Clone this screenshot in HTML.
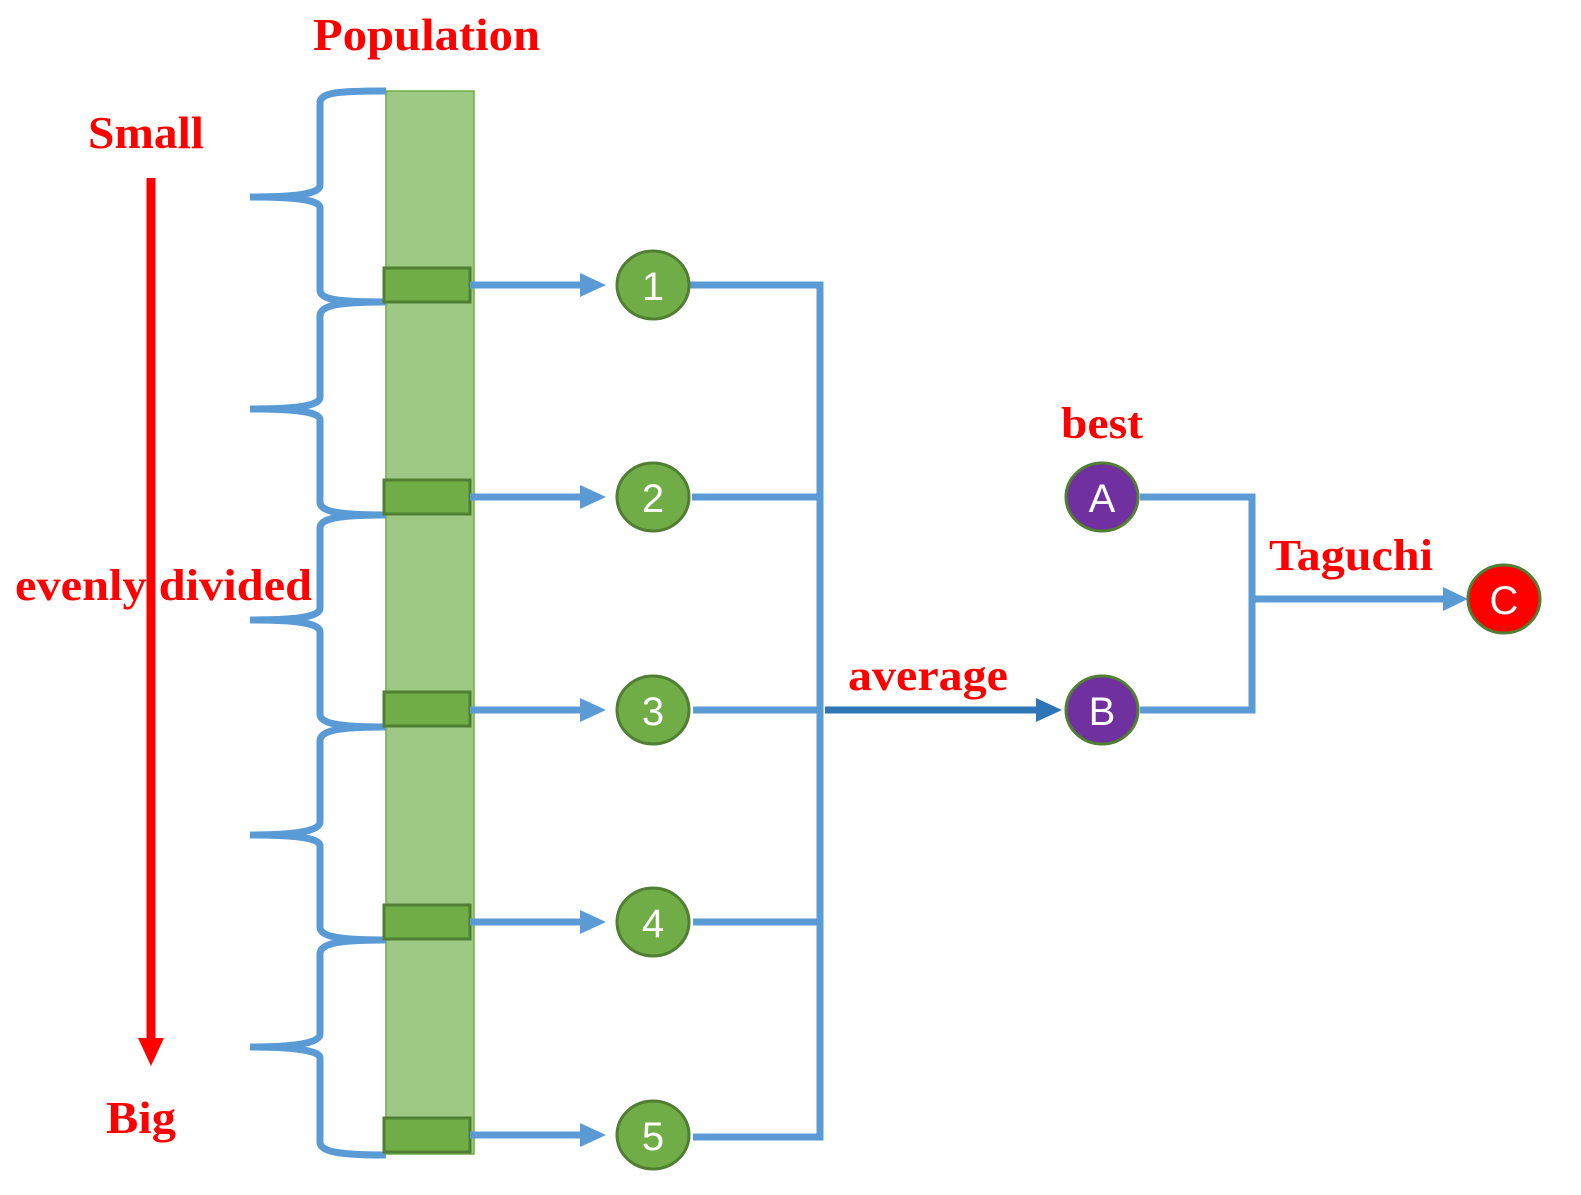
<!DOCTYPE html>
<html><head><meta charset="utf-8"><style>
html,body{margin:0;padding:0;background:#fff;}
svg{display:block;}
.t{font-family:"Liberation Serif",serif;font-weight:bold;fill:#ff0000;}
.n{font-family:"Liberation Sans",sans-serif;fill:#fff;font-size:40px;text-anchor:middle;}
</style></head><body>
<svg width="1581" height="1195" viewBox="0 0 1581 1195" xmlns="http://www.w3.org/2000/svg">
<defs>
<marker id="ab" markerWidth="8" markerHeight="8" refX="6" refY="4" orient="auto" markerUnits="userSpaceOnUse" viewBox="0 0 8 8"><path d="M0,0 L8,4 L0,8z" fill="#5b9bd5"/></marker>
</defs>
<!-- red arrow -->
<line x1="151" y1="178" x2="151" y2="1040" stroke="#ff0000" stroke-width="9"/>
<polygon points="138,1038 164,1038 151,1066" fill="#ff0000"/>
<!-- texts -->
<text class="t" x="313" y="50" font-size="46" textLength="227" lengthAdjust="spacingAndGlyphs">Population</text>
<text class="t" x="88" y="148" font-size="46" textLength="116" lengthAdjust="spacingAndGlyphs">Small</text>
<text class="t" x="15" y="600" font-size="44" textLength="297" lengthAdjust="spacingAndGlyphs">evenly divided</text>
<text class="t" x="106" y="1133" font-size="46" textLength="70" lengthAdjust="spacingAndGlyphs">Big</text>
<text class="t" x="1061" y="438" font-size="44" textLength="82" lengthAdjust="spacingAndGlyphs">best</text>
<text class="t" x="1269" y="570" font-size="44" textLength="164" lengthAdjust="spacingAndGlyphs">Taguchi</text>
<text class="t" x="848" y="690" font-size="44" textLength="160" lengthAdjust="spacingAndGlyphs">average</text>
<!-- bar -->
<rect x="386" y="91" width="88" height="1063" fill="#9dc985" stroke="#70ad47" stroke-width="1.5"/>
<!-- braces -->
<g fill="none" stroke="#5b9bd5" stroke-width="7">
<path d="M386,91 C340,91 320,92 320,103 L320,185 C320,195 290,197 250,197"/>
<path d="M386,302 C340,302 320,300 320,290 L320,208 C320,199 290,197 250,197"/>
<path d="M386,302 C340,302 320,305 320,316 L320,397 C320,407 290,409 250,409"/>
<path d="M386,515 C340,515 320,512 320,502 L320,420 C320,411 290,409 250,409"/>
<path d="M386,515 C340,515 320,518 320,528 L320,608 C320,618 290,620 250,620"/>
<path d="M386,727 C340,727 320,724 320,714 L320,632 C320,622 290,620 250,620"/>
<path d="M386,727 C340,727 320,730 320,741 L320,822 C320,832 290,835 250,835"/>
<path d="M386,940 C340,940 320,937 320,927 L320,846 C320,837 290,835 250,835"/>
<path d="M386,940 C340,940 320,943 320,954 L320,1034 C320,1044 290,1047 250,1047"/>
<path d="M386,1155 C340,1155 320,1152 320,1142 L320,1058 C320,1050 290,1047 250,1047"/>
</g>
<!-- small boxes, arrows, circles -->
<g>
<rect x="384" y="268" width="86" height="34" fill="#70ad47" stroke="#507e32" stroke-width="3"/>
<rect x="384" y="480" width="86" height="34" fill="#70ad47" stroke="#507e32" stroke-width="3"/>
<rect x="384" y="692" width="86" height="34" fill="#70ad47" stroke="#507e32" stroke-width="3"/>
<rect x="384" y="905" width="86" height="34" fill="#70ad47" stroke="#507e32" stroke-width="3"/>
<rect x="384" y="1118" width="86" height="34" fill="#70ad47" stroke="#507e32" stroke-width="3"/>
</g>
<g stroke="#5b9bd5" stroke-width="7" fill="none">
<line x1="470" y1="285" x2="585" y2="285"/>
<line x1="470" y1="497" x2="585" y2="497"/>
<line x1="470" y1="710" x2="585" y2="710"/>
<line x1="470" y1="922" x2="585" y2="922"/>
<line x1="470" y1="1135" x2="585" y2="1135"/>
<polyline points="690,285 820,285 820,1137 693,1137"/>
<line x1="692" y1="497" x2="820" y2="497"/>
<line x1="693" y1="710" x2="820" y2="710"/>
<line x1="693" y1="922" x2="820" y2="922"/>
<polyline points="1140,497 1252,497 1252,710 1140,710"/>
<line x1="1252" y1="599" x2="1450" y2="599"/>
</g>
<g fill="#5b9bd5">
<polygon points="580,273 606,285 580,297"/>
<polygon points="580,485 606,497 580,509"/>
<polygon points="580,698 606,710 580,722"/>
<polygon points="580,910 606,922 580,934"/>
<polygon points="580,1123 606,1135 580,1147"/>
<polygon points="1443,587 1468,599 1443,611"/>
</g>
<line x1="825" y1="710" x2="1040" y2="710" stroke="#2e75b6" stroke-width="7"/>
<polygon points="1036,698 1062,710 1036,722" fill="#2e75b6"/>
<g stroke="#507e32" stroke-width="3">
<ellipse cx="653" cy="285" rx="36" ry="34" fill="#70ad47"/>
<ellipse cx="653" cy="497" rx="36" ry="34" fill="#70ad47"/>
<ellipse cx="653" cy="710" rx="36" ry="34" fill="#70ad47"/>
<ellipse cx="653" cy="922" rx="36" ry="34" fill="#70ad47"/>
<ellipse cx="653" cy="1135" rx="36" ry="34" fill="#70ad47"/>
<ellipse cx="1102" cy="497" rx="36" ry="34" fill="#7030a0"/>
<ellipse cx="1102" cy="710" rx="36" ry="34" fill="#7030a0"/>
<ellipse cx="1504" cy="599" rx="36" ry="34" fill="#ff0000"/>
</g>
<text class="n" x="653" y="300">1</text>
<text class="n" x="653" y="512">2</text>
<text class="n" x="653" y="725">3</text>
<text class="n" x="653" y="937">4</text>
<text class="n" x="653" y="1150">5</text>
<text class="n" x="1102" y="512">A</text>
<text class="n" x="1102" y="725">B</text>
<text class="n" x="1504" y="614">C</text>
</svg>
</body></html>
